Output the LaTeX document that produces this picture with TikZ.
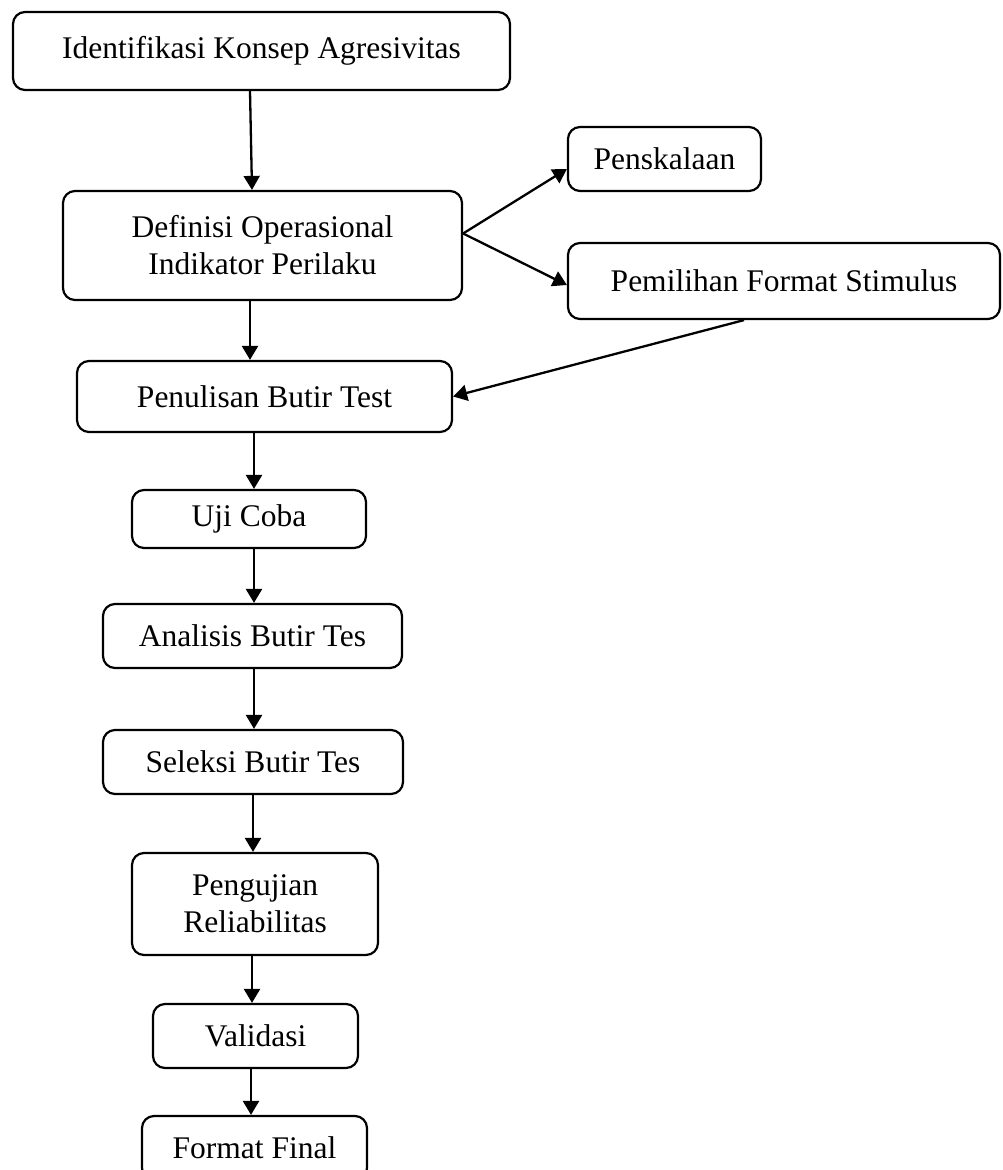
\documentclass[tikz,border=0pt]{standalone}
\usepackage{fontspec}
\setmainfont{Liberation Serif}
\usetikzlibrary{arrows.meta}
\begin{document}
\begin{tikzpicture}[x=1pt,y=-1pt,
  box/.style={draw, line width=2.2pt, rounded corners=12pt, inner sep=0pt, align=center,
    font=\fontsize{31.5}{37}\selectfont},
  arr/.style={line width=2.3pt, -{Triangle[length=14pt,width=16pt]}}]
\clip (0,0) rectangle (1003,1170);
\fill[white] (0,0) rectangle (1003,1170);
\node[box, minimum width=497pt, minimum height=78pt] (A) at (261.5,51) {Identifikasi Konsep Agresivitas};
\node[box, minimum width=399pt, minimum height=109pt] (B) at (262.5,245.5) {Definisi Operasional\\Indikator Perilaku};
\node[box, minimum width=193pt, minimum height=64pt] (C) at (664.5,159) {Penskalaan};
\node[box, minimum width=432pt, minimum height=76pt] (D) at (784,281) {Pemilihan Format Stimulus};
\node[box, minimum width=375pt, minimum height=71pt] (E) at (264.5,396.5) {Penulisan Butir Test};
\node[box, minimum width=234pt, minimum height=58pt] (F) at (249,519) {Uji Coba};
\node[box, minimum width=299pt, minimum height=64pt] (G) at (252.5,636) {Analisis Butir Tes};
\node[box, minimum width=300pt, minimum height=64pt] (H) at (253,762) {Seleksi Butir Tes};
\node[box, minimum width=246pt, minimum height=102pt] (I) at (255,904) {Pengujian\\Reliabilitas};
\node[box, minimum width=205pt, minimum height=64pt] (J) at (255.5,1036) {Validasi};
\node[box, minimum width=225pt, minimum height=64pt] (K) at (254.5,1148) {Format Final};
\coordinate (c250) at (250,0);
\coordinate (c251) at (251,0);
\coordinate (c252) at (252,0);
\coordinate (c253) at (253,0);
\coordinate (c254) at (254,0);
\draw[arr] (A.south -| c250) -- (B.north -| c252);
\draw[arr] (B.south -| c250) -- (E.north -| c250);
\draw[arr] (E.south -| c254) -- (F.north -| c254);
\draw[arr] (F.south -| c254) -- (G.north -| c254);
\draw[arr] (G.south -| c254) -- (H.north -| c254);
\draw[arr] (H.south -| c253) -- (I.north -| c253);
\draw[arr] (I.south -| c252) -- (J.north -| c252);
\draw[arr] (J.south -| c251) -- (K.north -| c251);
\coordinate (fan) at ([yshift=12pt]B.east);
\draw[arr] (fan) -- ([yshift=-10pt]C.west);
\draw[arr] (fan) -- ([yshift=-4pt]D.west);
\draw[arr] ([xshift=-40pt]D.south) -- (E.east);
\end{tikzpicture}
\end{document}
